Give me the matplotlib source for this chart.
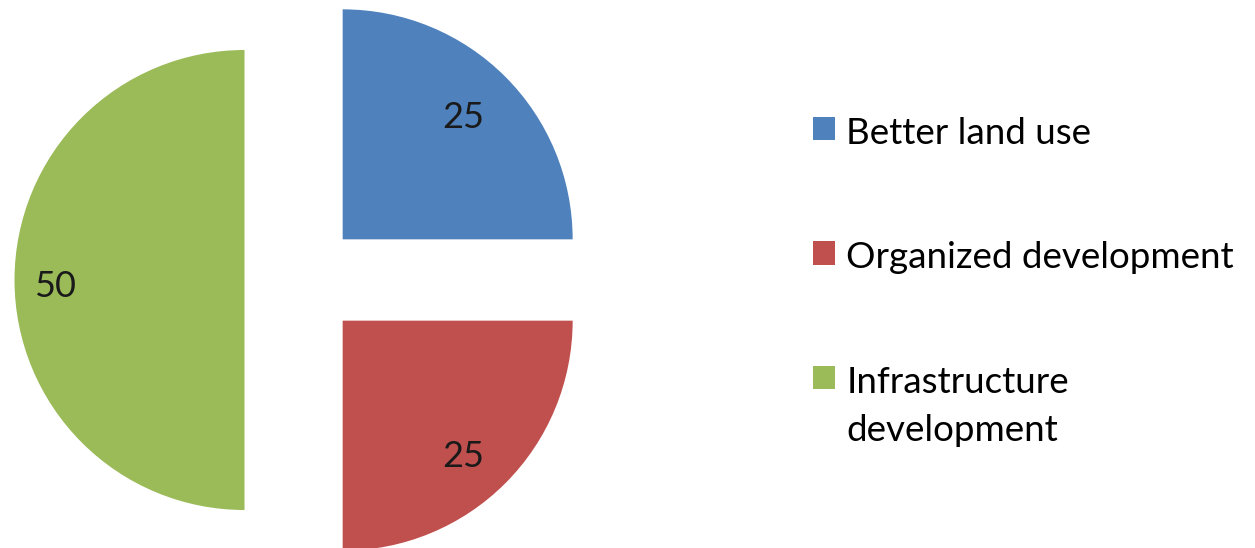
import matplotlib
matplotlib.use("Agg")
import matplotlib.pyplot as plt
from matplotlib.transforms import ScaledTranslation

categories = ["Better land use", "Organized development", "Infrastructure\ndevelopment"]
values = [25, 25, 50]
colors = ["#4F81BD", "#C0504D", "#9BBB59"]

plt.rcParams["font.family"] = ["Lato", "DejaVu Sans"]

W, H = 1255, 548
fig = plt.figure(figsize=(W / 100, H / 100), dpi=100)
ax = fig.add_axes([0, 0, 1, 1])

# pie centre in pixels and radius, used to set the view
cx, cy, r = 302, 268, 230

wedges, _, autotexts = ax.pie(
    values,
    colors=colors,
    startangle=90,
    counterclock=False,
    explode=[0.25] * len(values),
    autopct=lambda p: f"{p * sum(values) / 100:.0f}",
    pctdistance=0.79,
    wedgeprops=dict(linewidth=0),
    textprops=dict(fontsize=26, color="#1a1a1a"),
)
# value labels sit a little left and down of the radial point
nudge = ScaledTranslation(-8 / 100, -7 / 100, fig.dpi_scale_trans)
for t in autotexts:
    t.set_transform(ax.transData + nudge)

ax.set_xlim(-cx / r, (W - cx) / r)
ax.set_ylim(-cy / r, (H - cy) / r)
ax.set_aspect("auto")
ax.axis("off")

leg = ax.legend(
    wedges, categories,
    loc="upper left", bbox_to_anchor=(813 / W, 1 - 117 / H),
    frameon=False, fontsize=26.5,
    handlelength=0.6, handleheight=0.6, handletextpad=0.3,
    labelspacing=2.48, borderaxespad=0, borderpad=0,
)
for t in leg.get_texts():
    t.set_linespacing(1.58)
# put the square beside the first line of a wrapped label
for col in leg._legend_handle_box.get_children():
    for row in col.get_children():
        row.align = "top"

fig.savefig("out.png", dpi=100)
